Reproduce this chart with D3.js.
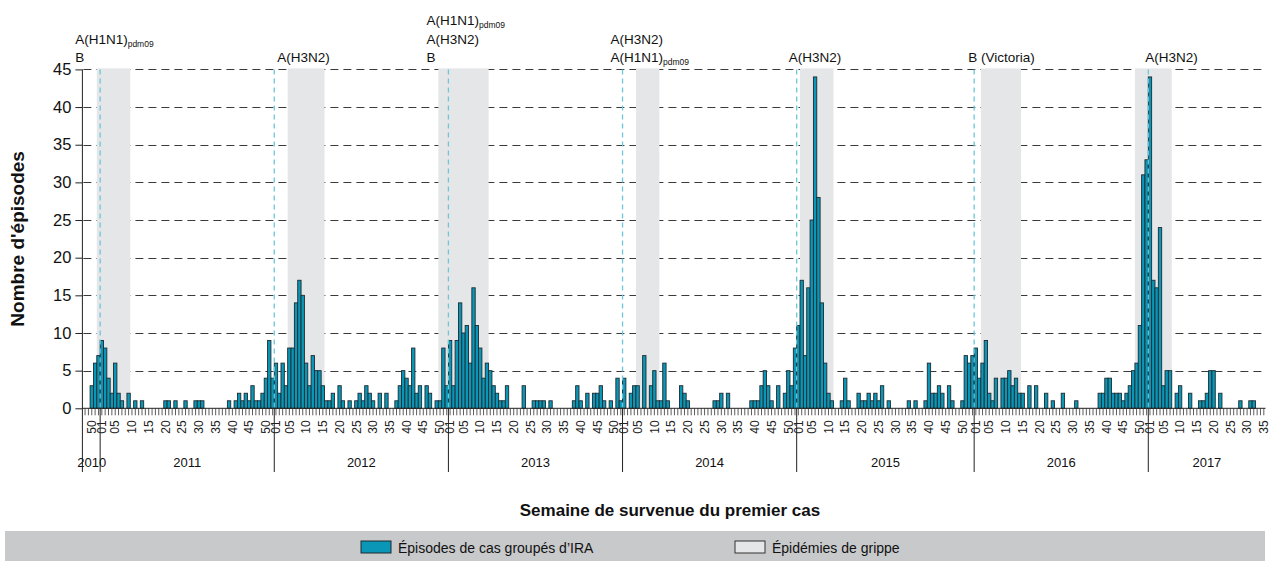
<!DOCTYPE html>
<html><head><meta charset="utf-8">
<script src="https://cdn.jsdelivr.net/npm/d3@7/dist/d3.min.js"></script>
<style>
body{margin:0;background:#fff;}
svg{display:block;font-family:'Liberation Sans',Arial,sans-serif;}
</style></head><body>
<svg id="c" width="1270" height="561"></svg>
<script>
// ---------- DATA ----------
const years     = [2010, 2011, 2012, 2013, 2014, 2015, 2016, 2017];
const firstWeek = [48, 1, 1, 1, 1, 1, 1, 1];
const lastWeek  = [52, 52, 52, 52, 52, 53, 52, 35];

// weekly number of clustered ARI episodes, per year (from firstWeek to lastWeek)
const v2010 = [0,0,3,6,7];
const v2011 = [9,8,4,2,6,2,1,0,2,0, 1,0,1,0,0,0,0,0,0,1, 1,0,1,0,0,1,0,0,1,1, 1,0,0,0,0,0,0,0,1,0, 1,2,1,2,1,3,1,1,2,4, 9,4];
const v2012 = [6,2,6,3,8,8,14,17,15,6, 3,7,5,5,3,1,1,2,0,3, 1,0,1,0,1,2,1,3,2,1, 0,2,0,2,0,0,1,3,5,4, 3,8,2,3,0,3,2,0,1,1, 8,3];
const v2013 = [9,3,9,14,10,11,6,16,11,8, 4,6,5,3,2,1,1,3,0,0, 0,0,3,0,0,1,1,1,1,0, 1,0,0,0,0,0,0,1,3,1, 0,2,0,2,2,3,1,0,1,0, 4,1];
const v2014 = [4,0,2,3,3,0,7,0,3,5, 1,1,6,1,0,0,0,3,2,1, 0,0,0,0,0,0,0,1,1,2, 0,2,0,0,0,0,0,0,1,1, 1,3,5,3,1,0,3,0,2,5, 3,8];
const v2015 = [11,17,7,16,25,44,28,14,6,2, 1,0,0,1,4,1,0,0,2,1, 1,2,1,2,1,3,0,1,0,0, 0,0,0,1,0,1,0,0,1,6, 2,2,3,2,0,3,1,0,0,1, 7,6,7];
const v2016 = [8,4,6,9,2,1,4,0,4,4, 5,3,4,2,2,0,3,0,3,0, 0,2,0,1,0,0,2,0,0,0, 1,0,0,0,0,0,0,2,2,4, 4,2,2,2,1,2,3,5,6,11, 31,33];
const v2017 = [44,17,16,24,3,5,5,0,2,3, 0,0,2,0,0,1,1,2,5,5, 0,2,0,0,0,0,0,1,0,0, 1,1,0,0,0];
const values = [v2010, v2011, v2012, v2013, v2014, v2015, v2016, v2017];

// influenza epidemic periods (year-week)
const epiStart = ["2010-52","2012-5","2012-50","2014-5","2015-2","2016-3","2016-49"];
const epiEnd   = ["2011-9","2012-15","2013-12","2014-11","2015-11","2016-14","2017-7"];

// dominant strains per season, anchored at a week
const strainAnchor = ["2011-1","2012-1","2013-1","2014-1","2015-1","2016-1","2017-1"];
const strainDx     = [-25, 3, -22, -12, -8, -6, -3];
const strainLines  = [
  [["A(H1N1)","pdm09"],["B"]],
  [["A(H3N2)"]],
  [["A(H1N1)","pdm09"],["A(H3N2)"],["B"]],
  [["A(H3N2)"],["A(H1N1)","pdm09"]],
  [["A(H3N2)"]],
  [["B (Victoria)"]],
  [["A(H3N2)"]]
];

const yTicks = [0,5,10,15,20,25,30,35,40,45];
const weekLabels = [1,5,10,15,20,25,30,35,40,45,50];

const yTitle = "Nombre d'épisodes";
const xTitle = "Semaine de survenue du premier cas";
const legendLabels = ["Épisodes de cas groupés d’IRA", "Épidémies de grippe"];

// ---------- BUILD ----------
const weeks = [];
years.forEach((yr,i)=>{
  for(let w=firstWeek[i], j=0; w<=lastWeek[i]; w++, j++){
    weeks.push({key: yr+"-"+w, year: yr, week: w, value: values[i][j]});
  }
});
const keys = weeks.map(d=>d.key);

const svg = d3.select("#c");
const C = {bar:"#0a96b6", barStroke:"#1e2b30", epi:"#e5e6e8", grid:"#3a3a3a", cyan:"#6cc6dc", axis:"#222"};

const x = d3.scaleBand().domain(keys).range([83.4, 1265.5]).paddingInner(0).paddingOuter(0);
const y = d3.scaleLinear().domain([0,45]).range([408.3, 69.4]);
const bw = x.bandwidth();
const x0 = x.range()[0], x1 = x.range()[1];

// grid
svg.append("g").selectAll("line").data(yTicks.filter(t=>t>0)).join("line")
  .attr("x1", x0).attr("x2", x1)
  .attr("y1", d=>Math.round(y(d))+0.5).attr("y2", d=>Math.round(y(d))+0.5)
  .attr("stroke", C.grid).attr("stroke-width",1).attr("stroke-dasharray","8,5");

// epidemic periods
svg.append("g").selectAll("rect").data(epiStart.map((s,i)=>({s, e: epiEnd[i]}))).join("rect")
  .attr("x", d=>x(d.s)).attr("width", d=>x(d.e)+bw-x(d.s))
  .attr("y", y(45)-1).attr("height", y(0)-y(45)+1)
  .attr("fill", C.epi);

// bars
svg.append("g").selectAll("rect").data(weeks.filter(d=>d.value>0)).join("rect")
  .attr("x", d=>x(d.key)).attr("width", bw)
  .attr("y", d=>y(d.value)).attr("height", d=>y(0)-y(d.value))
  .attr("fill", C.bar).attr("stroke", C.barStroke).attr("stroke-width", 0.9);

// year start dashed lines (cyan)
svg.append("g").selectAll("line").data(years.slice(1)).join("line")
  .attr("x1", d=>x(d+"-1")).attr("x2", d=>x(d+"-1"))
  .attr("y1", y(45)).attr("y2", y(0))
  .attr("stroke", C.cyan).attr("stroke-width",1.3).attr("stroke-dasharray","5,4");

// y axis
const yAxis = svg.append("g").attr("transform",`translate(${x0-1},0)`)
  .call(d3.axisLeft(y).tickValues(yTicks).tickSize(7).tickPadding(4).tickFormat(d3.format("d")));
yAxis.select(".domain").remove();
yAxis.selectAll("line").attr("stroke", C.axis);
yAxis.selectAll("text").attr("font-size",16.5).attr("fill","#111").attr("font-family","'Liberation Sans',Arial,sans-serif");
svg.append("line").attr("x1",x0-1).attr("x2",x0-1).attr("y1",y(45)).attr("y2",472).attr("stroke",C.axis);

// x axis (weekly ticks)
const xAxis = svg.append("g").attr("transform",`translate(0,${y(0)})`)
  .call(d3.axisBottom(x).tickValues(keys).tickSize(7)
    .tickFormat(k=>{const w=+k.split("-")[1]; return weekLabels.includes(w)? d3.format("02d")(w):"";}));
xAxis.select(".domain").attr("stroke",C.axis).attr("d",`M${x0-1},0H${x1}`);
xAxis.selectAll(".tick line").attr("stroke","#333").attr("stroke-width",0.8);
xAxis.selectAll("text").attr("transform","rotate(-90)").attr("y",0).attr("x",-12).attr("dy","0.35em")
  .style("text-anchor","end").attr("font-size",12).attr("fill","#222").attr("font-family","'Liberation Sans',Arial,sans-serif");

// year separators + labels
svg.append("g").selectAll("line").data(years.slice(1)).join("line")
  .attr("x1", d=>x(d+"-1")).attr("x2", d=>x(d+"-1"))
  .attr("y1", y(0)).attr("y2", 472).attr("stroke", C.axis);
svg.append("g").selectAll("text").data(years).join("text")
  .attr("x",(d,i)=>{const a=x(d+"-"+firstWeek[i]), b=x(d+"-"+lastWeek[i])+bw; return (a+b)/2;})
  .attr("y",467).attr("text-anchor","middle").attr("font-size",13).attr("fill","#111").text(d=>d);

// strain annotations
strainLines.forEach((lines,i)=>{
  const ax = x(strainAnchor[i]) + strainDx[i];
  const n = lines.length;
  lines.forEach((ln,j)=>{
    const t = svg.append("text").attr("x",ax).attr("y", 62 - (n-1-j)*18.5)
      .attr("font-size",13.5).attr("fill","#111");
    t.append("tspan").text(ln[0]);
    if(ln[1]) t.append("tspan").attr("font-size",8.5).attr("dy",3).text(ln[1]);
  });
});

// axis titles
svg.append("text").attr("transform",`translate(24,${(y(0)+y(45))/2}) rotate(-90)`)
  .attr("text-anchor","middle").attr("font-weight","bold").attr("font-size",19).attr("fill","#111").text(yTitle);
svg.append("text").attr("x",670).attr("y",516).attr("text-anchor","middle")
  .attr("font-weight","bold").attr("font-size",17).attr("fill","#111").text(xTitle);

// legend
svg.append("rect").attr("x",5).attr("y",531).attr("width",1260).attr("height",30).attr("fill","#c8c9cb");
const lg = [{x:361, fill:C.bar, stroke:C.barStroke},{x:735, fill:C.epi, stroke:"#333"}];
lg.forEach((d,i)=>{
  svg.append("rect").attr("x",d.x).attr("y",541).attr("width",30).attr("height",12)
    .attr("fill",d.fill).attr("stroke",d.stroke).attr("stroke-width",1);
  svg.append("text").attr("x",d.x+37).attr("y",553).attr("font-size",14).attr("fill","#111").text(legendLabels[i]);
});
</script>
</body></html>
